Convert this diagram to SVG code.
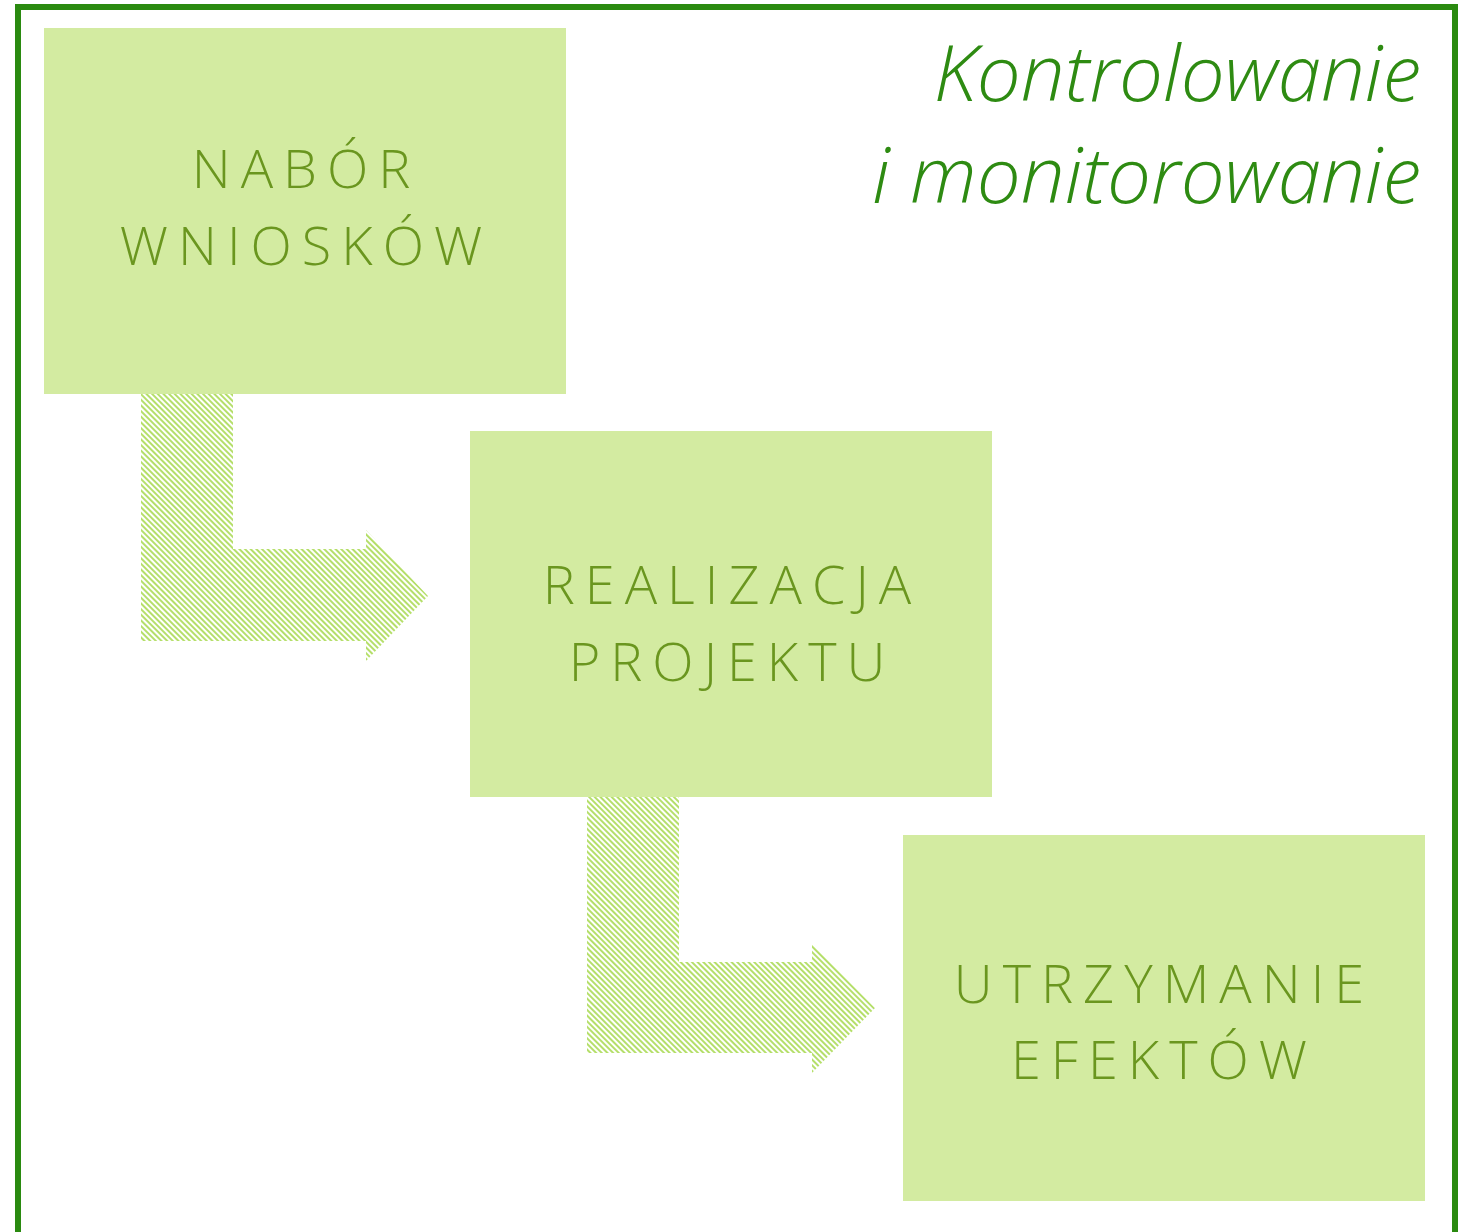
<svg xmlns="http://www.w3.org/2000/svg" width="1471" height="1232" viewBox="0 0 1471 1232">
<defs>
<pattern id="hatch" patternUnits="userSpaceOnUse" width="4" height="4" patternTransform="rotate(-45)">
<rect x="0" y="0" width="4" height="4" fill="#ffffff"/>
<rect x="0" y="0" width="2" height="4" fill="#b5df6a"/>
</pattern>
</defs>
<style>
.box{fill:#d3eba1;}
.lbl{font-family:"Open Sans","Noto Sans",sans-serif;font-weight:300;font-size:54px;fill:#6a961f;letter-spacing:10px;text-anchor:middle;}
.title{font-family:"Open Sans","Noto Sans",sans-serif;font-style:italic;font-weight:300;font-size:78px;fill:#2e8b12;text-anchor:end;}
.arrow{fill:url(#hatch);}
</style>
<rect x="0" y="0" width="1471" height="1232" fill="#ffffff"/>
<rect id="frame" x="18" y="7" width="1437" height="1240" fill="none" stroke="#2a8a10" stroke-width="6"/>
<g id="title">
<text class="title" x="1421" y="101">Kontrolowanie</text>
<text class="title" x="1421" y="203">i monitorowanie</text>
</g>
<g id="connectors">
<path class="arrow" d="M141,394 H233 V549 H366 V530 L428,596 L366,661 V641 H141 Z"/>
<path class="arrow" d="M587,797 H679 V962 H812 V944 L875,1008 L812,1073 V1053 H587 Z"/>
</g>
<g id="node1">
<rect class="box" x="44" y="28" width="522" height="366"/>
<text class="lbl" x="306" y="188">NABÓR</text>
<text class="lbl" x="306" y="265">WNIOSKÓW</text>
</g>
<g id="node2">
<rect class="box" x="470" y="431" width="522" height="366"/>
<text class="lbl" x="732" y="604">REALIZACJA</text>
<text class="lbl" x="732" y="681">PROJEKTU</text>
</g>
<g id="node3">
<rect class="box" x="903" y="835" width="522" height="366"/>
<text class="lbl" x="1164" y="1003">UTRZYMANIE</text>
<text class="lbl" x="1164" y="1079">EFEKTÓW</text>
</g>
</svg>
